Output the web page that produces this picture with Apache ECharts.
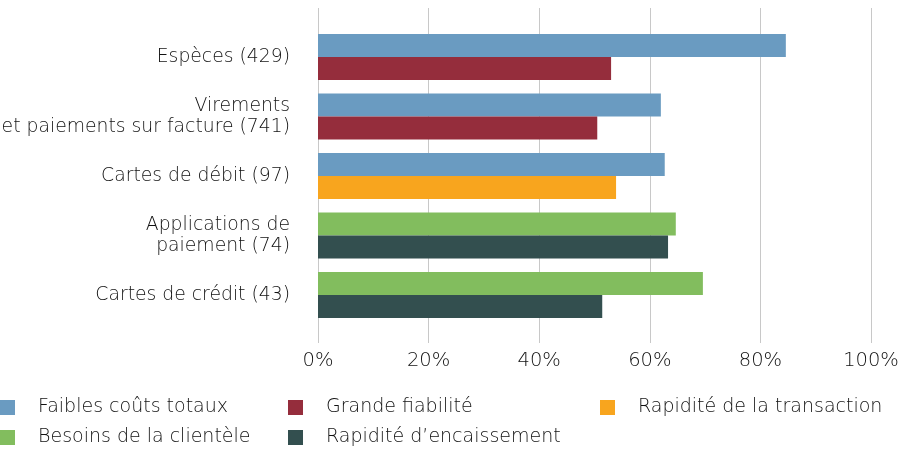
<!DOCTYPE html>
<html><head><meta charset="utf-8">
<script src="https://cdn.jsdelivr.net/npm/echarts@6/dist/echarts.min.js"></script>
<style>html,body{margin:0;padding:0;background:#fff}#c{width:899px;height:449px}</style>
</head><body><div id="c"></div>
<script>
const categories = ['Espèces (429)', 'Virements\net paiements sur facture (741)', 'Cartes de débit (97)', 'Applications de\npaiement (74)', 'Cartes de crédit (43)'];
const faiblesCouts = [84.6, 62, 62.7, '-', '-'];
const grandeFiabilite = [53, 50.5, '-', '-', '-'];
const rapiditeTransaction = ['-', '-', 53.9, '-', '-'];
const besoinsClientele = ['-', '-', '-', 64.7, 69.6];
const rapiditeEncaissement = ['-', '-', '-', 63.3, 51.4];
const xTicks = [0, 20, 40, 60, 80, 100];

const FONT = 'DejaVu Sans';
const FW = 200;
const TXT = '#111111';
const names = ['Faibles coûts totaux', 'Grande fiabilité', 'Rapidité de la transaction', 'Besoins de la clientèle', 'Rapidité d\u2019encaissement'];
const colors = ['#6a9bc1', '#952d3c', '#f8a51e', '#82bd5e', '#334f4f'];
const legendPos = [[0, 398], [288, 398], [600, 398], [0, 428], [288, 428]];

const chart = echarts.init(document.getElementById('c'), null, {renderer: 'canvas'});
function mk(i, data, stack) {
  return {name: names[i], type: 'bar', stack: stack, data: data, xAxisIndex: 1, yAxisIndex: 1,
    barWidth: 23, barGap: '0%', itemStyle: {color: colors[i]}, emphasis: {disabled: true}, animation: false};
}
chart.setOption({
  animation: false,
  grid: [
    {left: 318, right: 28, top: 8, height: 335, outerBoundsMode: 'none', containLabel: false},
    {left: 318, right: 28, top: 27.25, height: 297.5, outerBoundsMode: 'none', containLabel: false}
  ],
  xAxis: [
    {gridIndex: 0, type: 'value', min: xTicks[0], max: xTicks[xTicks.length - 1], interval: 20,
      axisLine: {show: false}, axisTick: {show: false},
      splitLine: {lineStyle: {color: '#c8c8c8', width: 1}},
      axisLabel: {formatter: '{value}%', fontFamily: FONT, fontWeight: FW, fontSize: 19.5, color: TXT, margin: 8}},
    {gridIndex: 1, type: 'value', min: 0, max: 100, show: false, splitLine: {show: false}}
  ],
  yAxis: [
    {gridIndex: 0, type: 'value', show: false, splitLine: {show: false}},
    {gridIndex: 1, type: 'category', data: categories, inverse: true,
      axisLine: {show: false}, axisTick: {show: false},
      axisLabel: {fontFamily: FONT, fontWeight: FW, fontSize: 18.8, color: TXT, margin: 28, lineHeight: 21, align: 'right'}}
  ],
  legend: names.map((n, i) => ({
    data: [n], left: legendPos[i][0], top: legendPos[i][1], icon: 'rect', itemWidth: 15, itemHeight: 15,
    padding: 0, selectedMode: false,
    textStyle: {fontFamily: FONT, fontWeight: FW, fontSize: 19, color: TXT, padding: [0, 0, 0, 18]}
  })),
  series: [
    mk(0, faiblesCouts, 'A'),
    mk(1, grandeFiabilite, 'B'),
    mk(2, rapiditeTransaction, 'B'),
    mk(3, besoinsClientele, 'A'),
    mk(4, rapiditeEncaissement, 'B')
  ]
});
</script></body></html>
